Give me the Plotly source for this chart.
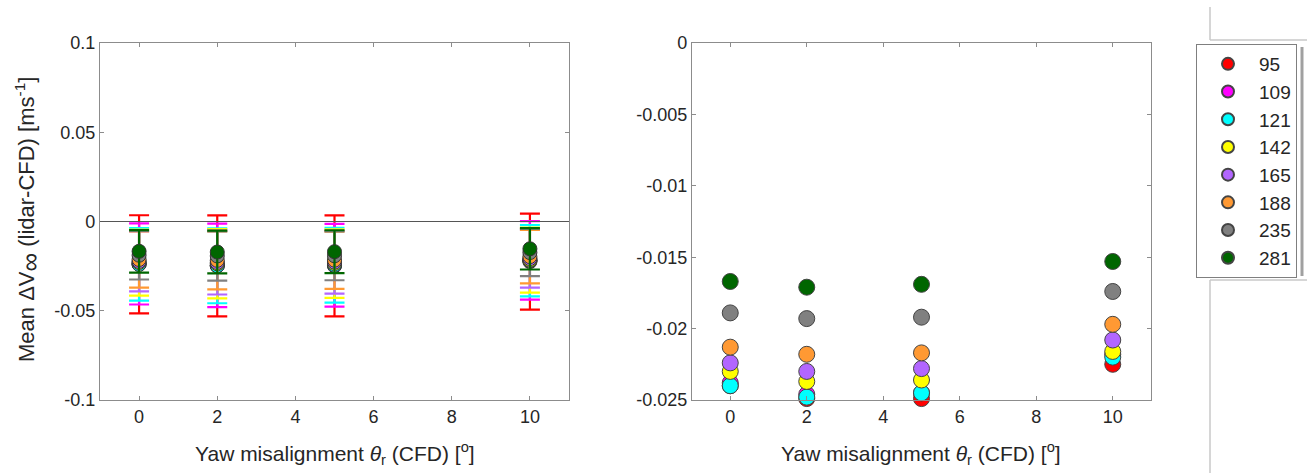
import plotly.graph_objects as go

# ---------------- data ----------------
yaw = [0, 2, 5, 10]
series_names = ["95", "109", "121", "142", "165", "188", "235", "281"]
colors = ["#FF0000", "#FF00FF", "#00FFFF", "#FFFF00", "#B266FF", "#FF9933", "#808080", "#006600"]

mean_95 = [-0.0240, -0.0249, -0.0249, -0.0225]
mean_109 = [-0.0238, -0.0246, -0.0245, -0.0218]
mean_121 = [-0.0240, -0.0248, -0.0245, -0.0220]
mean_142 = [-0.0230, -0.0237, -0.0236, -0.0216]
mean_165 = [-0.0224, -0.0230, -0.0228, -0.0208]
mean_188 = [-0.0213, -0.0218, -0.0217, -0.0197]
mean_235 = [-0.0189, -0.0193, -0.0192, -0.0174]
mean_281 = [-0.0167, -0.0171, -0.0169, -0.0153]

err_95 = [0.0275, 0.0283, 0.0283, 0.0269]
err_109 = [0.0227, 0.0234, 0.0232, 0.0220]
err_121 = [0.0203, 0.0210, 0.0210, 0.0200]
err_142 = [0.0185, 0.0194, 0.0192, 0.0182]
err_165 = [0.0168, 0.0179, 0.0176, 0.0162]
err_188 = [0.0157, 0.0162, 0.0160, 0.0150]
err_235 = [0.0136, 0.0138, 0.0137, 0.0132]
err_281 = [0.0119, 0.0120, 0.0120, 0.0116]

means = [mean_95, mean_109, mean_121, mean_142, mean_165, mean_188, mean_235, mean_281]
errs = [err_95, err_109, err_121, err_142, err_165, err_188, err_235, err_281]

left_yticks = [-0.1, -0.05, 0, 0.05, 0.1]
left_yticklabels = ["-0.1", "-0.05", "0", "0.05", "0.1"]
right_yticks = [-0.025, -0.02, -0.015, -0.01, -0.005, 0]
right_yticklabels = ["-0.025", "-0.02", "-0.015", "-0.01", "-0.005", "0"]
xticks = [0, 2, 4, 6, 8, 10]

# ---------------- figure ----------------
W, H = 1307, 473
FONT = "Liberation Sans, Arial, sans-serif"
TXT = "#262626"
AX = "#8c8c8c"

fig = go.Figure()

for name, col, m, e in zip(series_names, colors, means, errs):
    fig.add_trace(go.Scatter(
        x=yaw, y=m, mode="markers", name=name, showlegend=False,
        xaxis="x", yaxis="y", cliponaxis=False,
        marker=dict(size=14, color=col, line=dict(color="#333333", width=1)),
        error_y=dict(type="data", array=e, visible=True, color=col, thickness=2.2, width=10),
    ))

for name, col, m in zip(series_names, colors, means):
    fig.add_trace(go.Scatter(
        x=yaw, y=m, mode="markers", name=name, legendgroup=name,
        xaxis="x2", yaxis="y2", cliponaxis=False,
        marker=dict(size=16, color=col, line=dict(color="#444444", width=1)),
    ))

def px_x(p):
    return p / W

def px_y(p):
    return 1 - p / H

axis_common = dict(
    showgrid=False, zeroline=False, showline=True, linecolor=AX, linewidth=1.2,
    mirror="ticks", ticks="inside", ticklen=4, tickcolor=AX, automargin=False,
    tickfont=dict(family=FONT, size=18, color=TXT),
)

fig.update_layout(
    width=W, height=H, autosize=False,
    margin=dict(l=0, r=0, t=0, b=0, pad=0, autoexpand=False),
    paper_bgcolor="white", plot_bgcolor="white",
    font=dict(family=FONT, color=TXT),
    xaxis=dict(domain=[px_x(100), px_x(569)], range=[-1, 11], tickvals=xticks,
               anchor="y", **axis_common),
    yaxis=dict(domain=[px_y(400), px_y(43)], range=[-0.1, 0.1], tickvals=left_yticks,
               ticktext=left_yticklabels, anchor="x", **axis_common),
    xaxis2=dict(domain=[px_x(692), px_x(1151)], range=[-1, 11], tickvals=xticks,
                anchor="y2", **axis_common),
    yaxis2=dict(domain=[px_y(400), px_y(43)], range=[-0.025, 0], tickvals=right_yticks,
                ticktext=right_yticklabels, anchor="x2", **axis_common),
    legend=dict(
        x=px_x(1196), y=px_y(44), xanchor="left", yanchor="top",
        bordercolor="#7f7f7f", borderwidth=1, bgcolor="white",
        font=dict(family=FONT, size=19, color=TXT),
        itemwidth=52, tracegroupgap=0, traceorder="grouped",
        itemsizing="constant",
    ),
    showlegend=True,
)

# zero line on left plot
fig.add_shape(type="line", xref="x domain", yref="y", x0=0, x1=1, y0=0, y1=0,
              line=dict(color="#555555", width=1))

# legend shadow and cropped frame artefacts at right
fig.add_shape(type="line", xref="paper", yref="paper",
              x0=px_x(1302), x1=px_x(1302), y0=px_y(47), y1=px_y(276),
              line=dict(color="#a0a0a0", width=3))
for (x0, y0, x1, y1) in [(1210, 7, 1210, 40), (1210, 40, 1307, 40),
                         (1210, 280, 1307, 280), (1210, 280, 1210, 473)]:
    fig.add_shape(type="line", xref="paper", yref="paper",
                  x0=px_x(x0), x1=px_x(x1), y0=px_y(y0), y1=px_y(y1),
                  line=dict(color="#c8c8c8", width=1.5))

xtitle = "Yaw misalignment <i>θ</i><sub>r</sub> (CFD) [<sup>o</sup>]"
for cx in (335, 921):
    fig.add_annotation(text=xtitle, xref="paper", yref="paper", x=px_x(cx), y=px_y(453),
                       xanchor="center", yanchor="middle",
                       showarrow=False, font=dict(family=FONT, size=21, color=TXT))
fig.add_annotation(text="Mean ΔV<sub><span style='font-size:26px'>∞</span></sub> (lidar-CFD) [ms<sup>-1</sup>]",
                   xref="paper", yref="paper", x=px_x(28), y=px_y(220), textangle=-90,
                   xanchor="center", yanchor="middle",
                   showarrow=False, font=dict(family=FONT, size=22, color=TXT))

fig.write_html("out.html", config={"displayModeBar": False},
               post_script="document.body.style.margin='0';document.body.style.overflow='hidden';")
